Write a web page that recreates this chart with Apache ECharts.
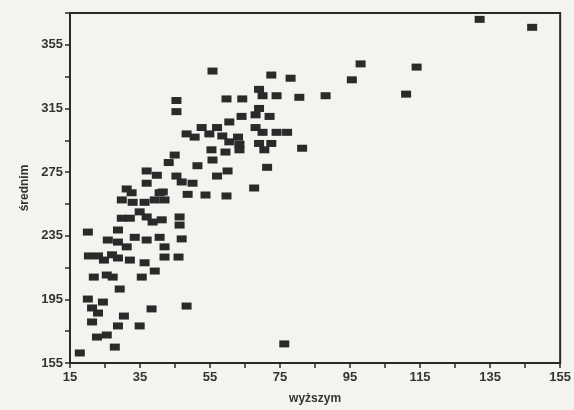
<!DOCTYPE html>
<html>
<head>
<meta charset="utf-8">
<script src="https://cdn.jsdelivr.net/npm/echarts@6/dist/echarts.min.js"></script>
<style>
html,body{margin:0;padding:0;background:#f4f3ef;}
#c{width:574px;height:410px;}
</style>
</head>
<body>
<div id="c"></div>
<script>
// x = "wyższym", y = "średnim"
var xValues = [132,147,98,95.5,114,111,88,80.5,78,72.5,55.7,45.4,45.4,59.7,64.2,69,70,74,69,68,72,64,60.5,57,52.6,48.3,50.6,54.8,58.5,63,68,70,74,77,60.5,63.4,69,72.5,70.5,81.3,55.4,59.4,63.4,44.9,43.2,55.7,51.4,60,57,71.3,39.8,45.4,46.9,50,67.6,41.5,48.6,53.7,59.7,36.9,36.9,31.2,32.6,29.8,32.9,36.3,40.6,42,39.2,34.9,36.9,29.8,32.1,38.6,41.2,46.3,46.3,20.1,28.7,33.5,36.9,40.6,42,46.9,25.8,28.7,31.2,20.4,23,24.7,27,28.7,32.1,36.3,42,46,39.2,35.5,21.8,25.5,27.2,29.2,20.1,24.4,21.3,23,21.3,30.4,28.7,34.9,38.3,48.3,22.7,25.5,27.8,17.8,76.2];
var yValues = [371,366,343,333,341,324,323,322,334,336,338.5,320,313,321,321,327,323,323,315,311,310,310,306.5,303,303,299,297,299,297.7,297,303,300,300,300,294,292.6,293,293,289,290,289,287.6,289,285.7,281,282.6,279,275.7,272.5,278,273,272.5,268.8,268,265,262.5,261,260.6,260,275.7,268,264.4,262,257.5,256,256,262,257.5,257.5,250,246.8,246,246,243.6,245,246.8,241.7,237.3,238.6,234,232.3,234,228,233,232.3,231,228,222.3,222.3,219.7,223,221,219.7,218,221.6,221.6,212.8,209,209,210.3,209,201.5,195.2,193.3,189.6,186.4,180.8,184.5,178.3,178.3,189,190.8,171.3,172.6,165,161.3,167];
var xTickLabels = [15,35,55,75,95,115,135,155];
var yTickLabels = [155,195,235,275,315,355];

var points = xValues.map(function(x,i){return [x,yValues[i]];});

var chart = echarts.init(document.getElementById('c'), null, {renderer:'canvas'});
var ink = '#2a2a2a';
var lblFont = {color:'#333', fontFamily:'Liberation Sans, Arial, sans-serif', fontSize:13, fontWeight:'bold'};
chart.setOption({
  backgroundColor:'#f4f3ef',
  animation:false,
  grid:{left:70, right:12, top:13, bottom:47, show:true, borderColor:ink, borderWidth:2, backgroundColor:'transparent'},
  xAxis:{
    type:'value', min:15, max:155, interval:10,
    name:'wyższym', nameLocation:'middle', nameGap:30,
    nameTextStyle:{color:'#333', fontFamily:'Liberation Sans, Arial, sans-serif', fontSize:12, fontWeight:'bold'},
    axisLine:{show:true, lineStyle:{color:ink, width:2}},
    axisTick:{show:true, inside:false, length:5, lineStyle:{color:ink, width:1.5}},
    splitLine:{show:false},
    axisLabel:Object.assign({margin:8, formatter:function(v){return xTickLabels.indexOf(Math.round(v))>=0 ? String(Math.round(v)) : '';}}, lblFont)
  },
  yAxis:{
    type:'value', min:155, max:375, interval:20,
    name:'średnim', nameLocation:'middle', nameGap:29, nameRotate:90,
    nameTextStyle:{color:'#333', fontFamily:'Liberation Sans, Arial, sans-serif', fontSize:12, fontWeight:'bold'},
    axisLine:{show:true, lineStyle:{color:ink, width:2}},
    axisTick:{show:true, inside:false, length:5, lineStyle:{color:ink, width:1.5}},
    splitLine:{show:false},
    axisLabel:Object.assign({margin:7, formatter:function(v){return yTickLabels.indexOf(Math.round(v))>=0 ? String(Math.round(v)) : '';}}, lblFont)
  },
  series:[{
    type:'scatter',
    data:points,
    symbol:'rect',
    symbolSize:[10,7],
    itemStyle:{color:ink, opacity:1}
  }]
});
</script>
</body>
</html>
